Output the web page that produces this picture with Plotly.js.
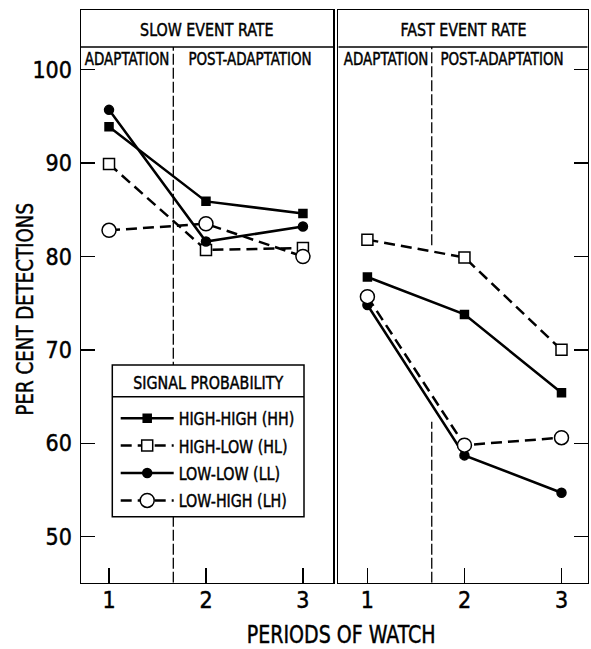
<!DOCTYPE html>
<html><head><meta charset="utf-8">
<script src="https://cdn.plot.ly/plotly-3.0.1.min.js"></script>
<style>html,body{margin:0;padding:0;background:#fff}#chart{width:591px;height:649px}</style>
</head><body><div id="chart"></div>
<script>
// ---- data ----
const periods = [1, 2, 3];
const periodLabels = ['1', '2', '3'];
const seriesNames = ['HIGH-HIGH (HH)', 'HIGH-LOW (HL)', 'LOW-LOW (LL)', 'LOW-HIGH (LH)'];
const slowHH = [93.9, 85.9, 84.6];
const slowHL = [89.9, 80.7, 80.9];
const slowLL = [95.7, 81.6, 83.2];
const slowLH = [82.8, 83.5, 80.0];
const fastHH = [77.8, 73.8, 65.4];
const fastHL = [81.8, 79.9, 70.0];
const fastLL = [74.8, 58.7, 54.7];
const fastLH = [75.7, 59.8, 60.6];
const yTicks = [50, 60, 70, 80, 90, 100];
const panelTitles = ['SLOW EVENT RATE', 'FAST EVENT RATE'];
const phaseLabels = ['ADAPTATION', 'POST-ADAPTATION'];
const legendTitle = 'SIGNAL PROBABILITY';
const xTitle = 'PERIODS OF WATCH';
const yTitle = 'PER CENT DETECTIONS';
const adaptationBoundary = 1.663;

// ---- styles ----
const FONT = '"Liberation Sans Narrow", "DejaVu Sans Condensed", "Arial Narrow", sans-serif';
const TEXT_SQUEEZE = 0.88;
const styles = [
  {dash: 'solid', symbol: 'square', size: 8, fill: 'black'},
  {dash: '11px,6px', symbol: 'square', size: 11, fill: 'white'},
  {dash: 'solid', symbol: 'circle', size: 9, fill: 'black'},
  {dash: '11px,6px', symbol: 'circle', size: 14, fill: 'white'}
];
const slow = [slowHH, slowHL, slowLL, slowLH];
const fast = [fastHH, fastHL, fastLL, fastLH];

const traces = [];
function addPanel(values, xa, ya, legend) {
  values.forEach((vals, i) => {
    const s = styles[i];
    traces.push({
      type: 'scatter', mode: 'lines+markers', x: periods, y: vals,
      xaxis: xa, yaxis: ya, name: seriesNames[i], legendgroup: 'g' + i,
      showlegend: legend, cliponaxis: false,
      line: {color: 'black', width: 2.5, dash: s.dash},
      marker: {symbol: s.symbol, size: s.size, color: s.fill, line: {color: 'black', width: 1.5}}
    });
  });
}
addPanel(slow, 'x', 'y', true);
addPanel(fast, 'x2', 'y2', false);

const W = 591, H = 649;
const px = v => v / W, py = v => 1 - v / H;
const yRange = [45.07, 106.39];
const headerLine = 102.43;
const yDomain = [py(582.7), py(10)];
const legendBox = {l: 112.3, r: 304, t: 365, sep: 396.7, b: 516.7};
const axisCommon = {
  showline: true, linecolor: 'black', linewidth: 1.5, mirror: true,
  showgrid: false, zeroline: false, ticks: 'inside', tickcolor: 'black', tickwidth: 1.5,
  tickfont: {size: 23, family: FONT, color: 'black'}
};

const layout = {
  width: W, height: H, margin: {l: 0, r: 0, t: 0, b: 0},
  paper_bgcolor: 'white', plot_bgcolor: 'white',
  font: {family: FONT, color: 'black', size: 17},
  showlegend: true,
  legend: {
    x: px(115.7), y: py(400), xanchor: 'left', yanchor: 'top',
    bgcolor: 'rgba(0,0,0,0)', borderwidth: 0,
    font: {size: 18, family: FONT}, tracegroupgap: 1, itemwidth: 53
  },
  xaxis: Object.assign({}, axisCommon, {domain: [px(81), px(333)], range: [0.711, 3.31],
    tickvals: periods, ticktext: periodLabels, ticklen: 15, anchor: 'y', ticklabelstandoff: -4}),
  xaxis2: Object.assign({}, axisCommon, {domain: [px(338.3), px(587.7)], range: [0.70, 3.27],
    tickvals: periods, ticktext: periodLabels, ticklen: 15, anchor: 'y2', ticklabelstandoff: -4}),
  yaxis: Object.assign({}, axisCommon, {domain: yDomain, range: yRange, tickvals: yTicks,
    ticklen: 14, anchor: 'x', ticklabelstandoff: 3}),
  yaxis2: Object.assign({}, axisCommon, {domain: yDomain, range: yRange, tickvals: yTicks,
    ticklen: 14, anchor: 'x2', side: 'right', showticklabels: false}),
  shapes: [
    {type: 'line', xref: 'x', yref: 'y', x0: 0.711, x1: 3.31, y0: headerLine, y1: headerLine, line: {color: 'black', width: 1.5}},
    {type: 'line', xref: 'x2', yref: 'y2', x0: 0.70, x1: 3.27, y0: headerLine, y1: headerLine, line: {color: 'black', width: 1.5}},
    {type: 'line', xref: 'x', yref: 'y', x0: adaptationBoundary, x1: adaptationBoundary, y0: yRange[0], y1: headerLine, line: {color: 'black', width: 1.3, dash: '11px,3px'}},
    {type: 'line', xref: 'x2', yref: 'y2', x0: adaptationBoundary, x1: adaptationBoundary, y0: 81.2, y1: headerLine, line: {color: 'black', width: 1.3, dash: '11px,3px'}},
    {type: 'line', xref: 'x2', yref: 'y2', x0: adaptationBoundary, x1: adaptationBoundary, y0: yRange[0], y1: 62.3, line: {color: 'black', width: 1.3, dash: '11px,3px'}},
    {type: 'rect', xref: 'paper', yref: 'paper', layer: 'above',
      x0: px(legendBox.l), x1: px(legendBox.r), y0: py(legendBox.b), y1: py(legendBox.t),
      fillcolor: 'white', line: {color: 'black', width: 1.5}},
    {type: 'line', xref: 'paper', yref: 'paper', layer: 'above',
      x0: px(legendBox.l), x1: px(legendBox.r), y0: py(legendBox.sep), y1: py(legendBox.sep),
      line: {color: 'black', width: 1.5}}
  ],
  annotations: [
    {text: panelTitles[0], xref: 'x domain', yref: 'y', x: 0.5, y: 104.3, showarrow: false, font: {size: 18}},
    {text: panelTitles[1], xref: 'x2 domain', yref: 'y2', x: 0.5, y: 104.3, showarrow: false, font: {size: 18}},
    {text: phaseLabels[0], xref: 'x', yref: 'y', x: 1.19, y: 101.1, xanchor: 'center', showarrow: false, font: {size: 17}},
    {text: phaseLabels[1], xref: 'x', yref: 'y', x: 2.454, y: 101.1, xanchor: 'center', showarrow: false, font: {size: 17}},
    {text: phaseLabels[0], xref: 'x2', yref: 'y2', x: 1.192, y: 101.1, xanchor: 'center', showarrow: false, font: {size: 17}},
    {text: phaseLabels[1], xref: 'x2', yref: 'y2', x: 2.391, y: 101.1, xanchor: 'center', showarrow: false, font: {size: 17}},
    {text: legendTitle, xref: 'paper', yref: 'paper', x: px((legendBox.l + legendBox.r) / 2), y: py(382.5),
      xanchor: 'center', yanchor: 'middle', showarrow: false, font: {size: 18}},
    {text: xTitle, xref: 'paper', yref: 'paper', x: px(341.5), y: py(635), xanchor: 'center', yanchor: 'middle',
      showarrow: false, font: {size: 24}},
    {text: yTitle, xref: 'paper', yref: 'paper', x: px(25), y: py(309), xanchor: 'center', yanchor: 'middle',
      textangle: -90, showarrow: false, font: {size: 23}}
  ]
};

Plotly.newPlot('chart', traces, layout, {displayModeBar: false, staticPlot: true}).then(gd => {
  // the original lettering is a heavy, narrow condensed face: squeeze and thicken the installed condensed font
  gd.querySelectorAll('.annotation-text, .legendtext').forEach(t => {
    const w = t.getComputedTextLength();
    if (w > 0) {
      t.setAttribute('textLength', (w * TEXT_SQUEEZE).toFixed(1));
      t.setAttribute('lengthAdjust', 'spacingAndGlyphs');
    }
  });
  gd.querySelectorAll('text').forEach(t => {
    t.style.stroke = 'black';
    t.style.strokeWidth = '0.45px';
  });
});
</script>
</body></html>
